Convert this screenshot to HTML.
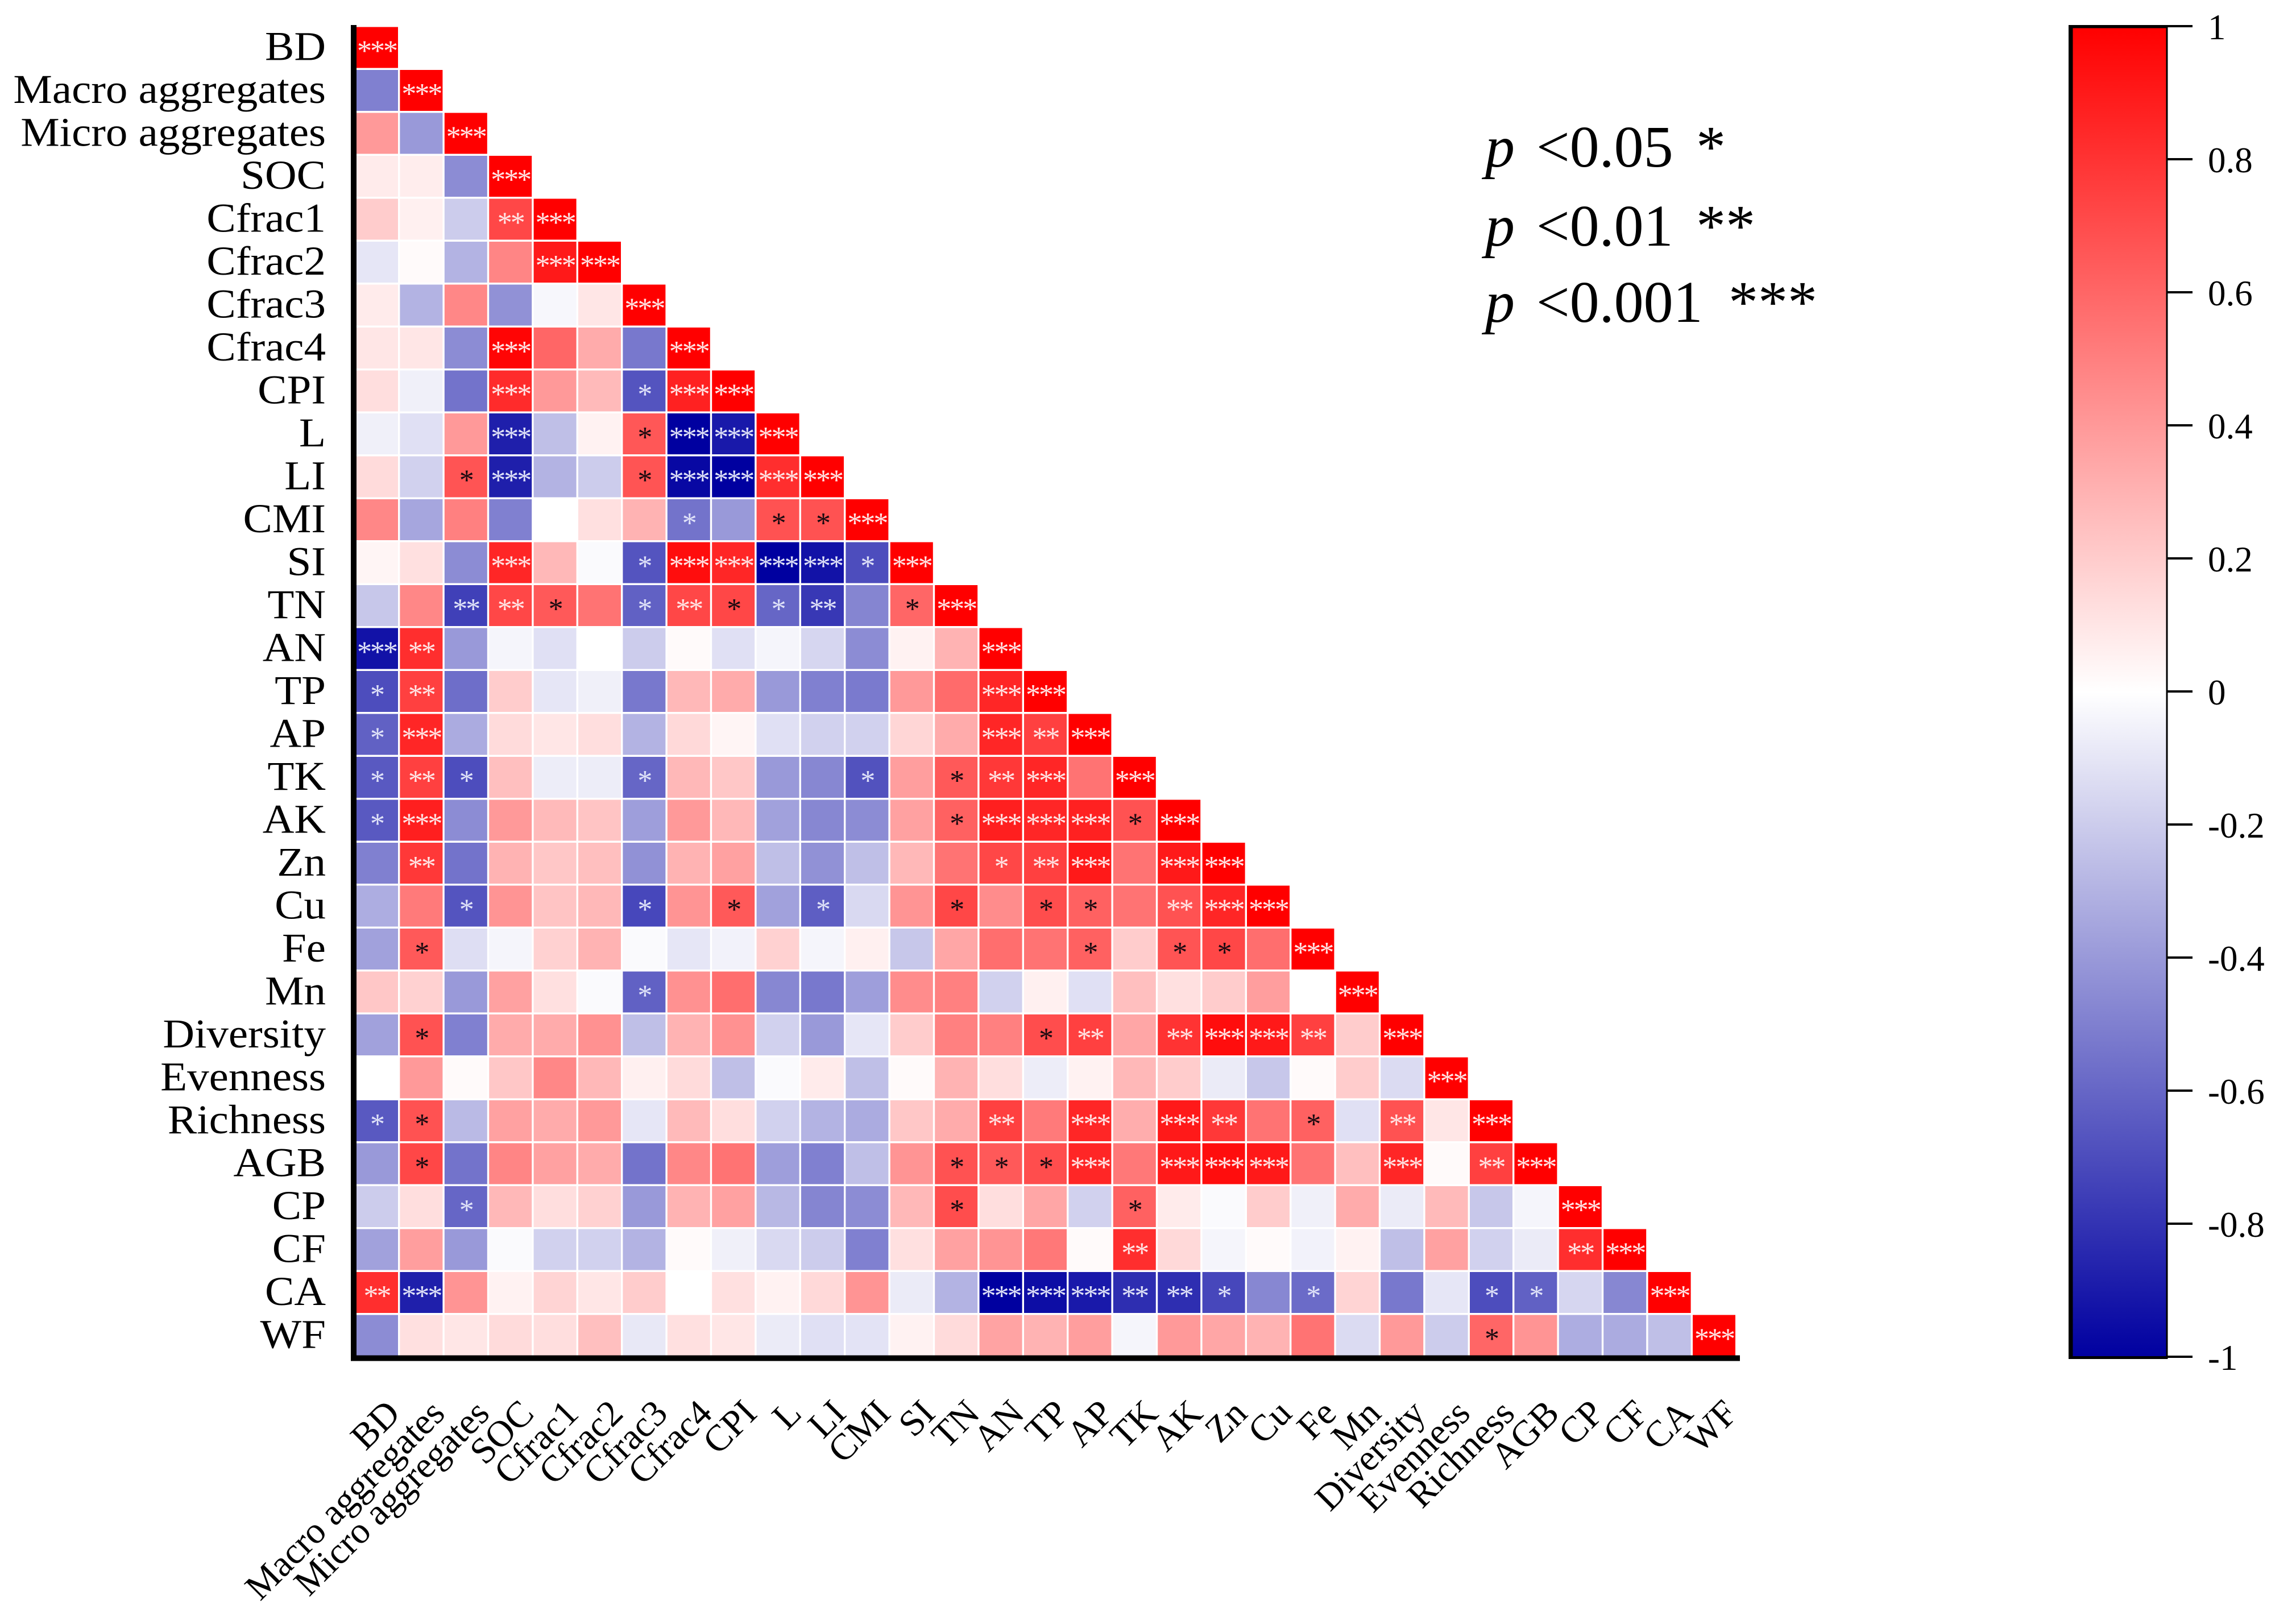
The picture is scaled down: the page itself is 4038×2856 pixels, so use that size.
<!DOCTYPE html>
<html lang="en">
<head>
<meta charset="utf-8">
<title>Correlation heatmap</title>
<style>
html,body{margin:0;padding:0;background:#fff;}
svg{display:block;}
text{font-family:"Liberation Serif",serif;fill:#000;}
</style>
</head>
<body>
<svg id="chart" xmlns="http://www.w3.org/2000/svg" width="4038" height="2856" viewBox="0 0 4038 2856">
  <defs>
    <linearGradient id="cbGrad" x1="0" y1="0" x2="0" y2="1">
      <stop offset="0" stop-color="#ff0000"/>
      <stop offset="0.5" stop-color="#ffffff"/>
      <stop offset="1" stop-color="#0000a0"/>
    </linearGradient>
  </defs>
  <rect x="0" y="0" width="4038" height="2856" fill="#ffffff"/>
  <g id="cells"></g>
  <g id="stars"></g>
  <rect x="617" y="44" width="10" height="2349" fill="#000"/>
  <rect x="617" y="2383.5" width="2443" height="10" fill="#000"/>
  <g id="ylabels"></g>
  <g id="xlabels"></g>
  <g id="legend">
    <g font-size="104">
      <text x="2612" y="293" font-style="italic">p</text>
      <text x="2702" y="293">&lt;0.05</text>
      <text x="2983" y="293">*</text>
    </g>
    <g font-size="104">
      <text x="2612" y="432" font-style="italic">p</text>
      <text x="2702" y="432">&lt;0.01</text>
      <text x="2983" y="432">**</text>
    </g>
    <g font-size="104">
      <text x="2612" y="566" font-style="italic">p</text>
      <text x="2702" y="566">&lt;0.001</text>
      <text x="3040" y="566">***</text>
    </g>
  </g>
  <g id="colorbar">
    <rect x="3641" y="47" width="170" height="2340" fill="url(#cbGrad)"/>
    <rect x="3638" y="44" width="7.5" height="2346" fill="#000"/>
    <rect x="3638" y="44" width="174" height="5.5" fill="#000"/>
    <rect x="3638" y="2385" width="174" height="5" fill="#000"/>
    <rect x="3809.5" y="44" width="3" height="2346" fill="#000"/>
  </g>
</svg>
<script>
var categories = ["BD","Macro aggregates","Micro aggregates","SOC","Cfrac1","Cfrac2","Cfrac3","Cfrac4","CPI","L","LI","CMI","SI","TN","AN","TP","AP","TK","AK","Zn","Cu","Fe","Mn","Diversity","Evenness","Richness","AGB","CP","CF","CA","WF"];

var correlationRows = [
[1],
[-.5,1],
[.4,-.4,1],
[.08,.07,-.45,1],
[.2,.06,-.2,.72,1],
[-.1,.02,-.3,.48,.9,1],
[.08,-.3,.47,-.43,-.03,.1,1],
[.1,.1,-.45,.98,.6,.33,-.53,1],
[.13,-.06,-.55,.83,.4,.27,-.67,.87,1],
[-.06,-.12,.4,-.88,-.25,.05,.66,-1,-.9,1],
[.14,-.18,.67,-.88,-.3,-.2,.67,-.97,-1,.82,1],
[.47,-.35,.5,-.5,0,.12,.3,-.55,-.4,.68,.68,1],
[.04,.12,-.45,.85,.28,-.02,-.67,.95,.85,-1,-.93,-.7,1],
[-.22,.47,-.75,.72,.65,.55,-.62,.72,.72,-.6,-.78,-.48,.6,1],
[-.93,.82,-.4,-.04,-.12,0,-.2,.02,-.12,-.04,-.16,-.45,.05,.3,1],
[-.7,.75,-.57,.2,-.1,-.06,-.53,.28,.33,-.4,-.5,-.52,.4,.58,.85,1],
[-.62,.85,-.33,.14,.1,.13,-.3,.15,.04,-.12,-.18,-.18,.16,.33,.85,.75,1],
[-.65,.75,-.7,.25,-.07,-.07,-.6,.28,.22,-.4,-.47,-.68,.38,.65,.78,.85,.55,1],
[-.65,.88,-.45,.4,.27,.23,-.38,.4,.28,-.37,-.47,-.45,.37,.62,.88,.85,.87,.68,1],
[-.5,.78,-.55,.3,.22,.25,-.43,.3,.37,-.25,-.43,-.25,.28,.55,.72,.75,.9,.55,.9,1],
[-.32,.52,-.67,.42,.23,.28,-.72,.42,.65,-.37,-.63,-.15,.42,.72,.45,.7,.62,.55,.68,.85,1],
[-.37,.65,-.13,-.04,.18,.3,-.02,-.1,-.05,.18,-.04,.06,-.22,.35,.57,.55,.62,.2,.67,.72,.57,1],
[.22,.18,-.4,.37,.12,-.02,-.62,.43,.57,-.47,-.53,-.38,.45,.5,-.18,.06,-.12,.25,.12,.2,.38,0,1],
[-.37,.68,-.5,.33,.33,.43,-.25,.3,.43,-.18,-.4,-.1,.2,.5,.5,.7,.75,.35,.8,.95,.9,.75,.2,1],
[0,.4,.02,.22,.47,.28,.06,.14,-.25,-.02,.08,-.25,.02,.3,.13,-.07,.05,.28,.2,-.08,-.22,.02,.2,-.14,1],
[-.65,.68,-.27,.37,.33,.4,-.1,.27,.13,-.18,-.3,-.33,.22,.33,.75,.52,.85,.32,.9,.78,.55,.62,-.12,.68,.1,1],
[-.4,.72,-.55,.48,.37,.33,-.55,.47,.55,-.38,-.5,-.25,.42,.68,.65,.7,.85,.53,.9,.95,.9,.55,.25,.85,.02,.75,1],
[-.2,.13,-.6,.28,.13,.18,-.4,.3,.37,-.28,-.48,-.45,.28,.7,.13,.35,-.18,.62,.08,-.02,.2,-.06,.33,-.08,.27,-.22,-.04,1],
[-.37,.38,-.4,-.02,-.18,-.18,-.3,.02,-.06,-.15,-.2,-.5,.12,.37,.42,.53,.02,.82,.15,-.04,.02,-.05,.05,-.25,.37,-.18,-.08,.82,1],
[.82,-.88,.42,.05,.17,.1,.2,0,.12,.05,.15,.42,-.08,-.3,-1,-.95,-.9,-.82,-.82,-.72,-.47,-.58,.17,-.53,-.1,-.7,-.62,-.16,-.47,1],
[-.45,.12,.1,.14,.13,.25,-.09,.12,.1,-.08,-.12,-.11,.05,.14,.36,.3,.38,-.04,.4,.35,.3,.55,-.14,.4,-.2,.6,.42,-.32,-.33,-.25,1]
];

var significanceRows = [
"3",
"03",
"003",
"0003",
"00023",
"00003 3",
"00000 03",
"00030 003",
"00030 0133",
"00030 01333",
"00130 01333 3",
"00000 00101 13",
"00030 01333 313",
"00221 01211 2013",
"32000 00000 00003",
"12000 00000 00003 3",
"13000 00000 00003 23",
"12100 01000 01012 303",
"13000 00000 00013 3313",
"02000 00000 00001 23033",
"00100 01010 10010 11023 3",
"01000 00000 00000 01011 03",
"00000 01000 00000 00000 003",
"01000 00000 00000 12023 3203",
"00000 00000 00000 00000 00003",
"11000 00000 00002 03032 01020 3",
"01000 00000 00011 13033 30030 23",
"00100 00000 00010 00100 00000 003",
"00000 00000 00000 00200 00000 0023",
"23000 00000 00003 33221 01000 11003",
"00000 00000 00000 00000 00000 10000 3"
];

var colorbarTickValues = [1,0.8,0.6,0.4,0.2,0,-0.2,-0.4,-0.6,-0.8,-1];
var colorbarTickLabels = ["1","0.8","0.6","0.4","0.2","0","-0.2","-0.4","-0.6","-0.8","-1"];

var SVG_NS = "http://www.w3.org/2000/svg";
var COL_START = 625, COL_STEP = 78.4, ROW_START = 47.5, ROW_STEP = 75.5;
var CELL_W = 75, CELL_H = 72;

function xScale(c){ return COL_START + c * COL_STEP; }
function yScale(r){ return ROW_START + r * ROW_STEP; }
function colorbarY(v){ return 46 + (1 - v) * 1170; }
function cellColor(v){
  var t = Math.min(1, Math.abs(v));
  var k = Math.round(255 * (1 - t));
  if (v >= 0) return "rgb(255," + k + "," + k + ")";
  return "rgb(" + k + "," + k + "," + Math.round(255 - 95 * t) + ")";
}
function make(tag, attrs){
  var el = document.createElementNS(SVG_NS, tag);
  for (var key in attrs) el.setAttribute(key, attrs[key]);
  return el;
}

var cellsG = document.getElementById("cells");
var starsG = document.getElementById("stars");
var yG = document.getElementById("ylabels");
var xG = document.getElementById("xlabels");
var cbG = document.getElementById("colorbar");

correlationRows.forEach(function(row, r){
  var sig = significanceRows[r].replace(/ /g, "");
  row.forEach(function(v, c){
    var cell = make("rect", {x: xScale(c), y: yScale(r), width: CELL_W, height: CELL_H, fill: cellColor(v)});
    
    
    cellsG.appendChild(cell);
    var level = Number(sig.charAt(c));
    if (level > 0) {
      var dark = level === 1 && v > 0 && !(r === 19 && c === 14);
      var star = make("text", {
        x: xScale(c) + CELL_W / 2,
        y: yScale(r) + CELL_H / 2 + 23,
        "text-anchor": "middle",
        "font-size": 52,
        "letter-spacing": "-3"
      });
      star.style.fill = dark ? "#1a0a10" : (v > 0 ? "#ffe4e4" : "#dfe2f8");
      star.textContent = "***".slice(0, level);
      
      
      starsG.appendChild(star);
    }
  });
});

categories.forEach(function(name, i){
  var yl = make("text", {
    transform: "translate(573," + (yScale(i) + CELL_H / 2 + 22) + ") scale(1.07,1)",
    "text-anchor": "end",
    "font-size": 72
  });
  yl.textContent = name;
  
  
  yG.appendChild(yl);

  var xl = make("text", {
    transform: "translate(" + (xScale(i) + 39 + 43) + ",2489) rotate(-45)",
    "text-anchor": "end",
    "font-size": 65
  });
  xl.textContent = name;
  
  
  xG.appendChild(xl);
});

colorbarTickValues.forEach(function(v, i){
  var y = colorbarY(v);
  var tick = make("rect", {x: 3810, y: y - 2, width: 46, height: 4, fill: "#000"});
  
  
  cbG.appendChild(tick);
  var label = make("text", {x: 3883, y: y + 23, "font-size": 63});
  label.textContent = colorbarTickLabels[i];
  
  
  cbG.appendChild(label);
});
</script>
</body>
</html>
